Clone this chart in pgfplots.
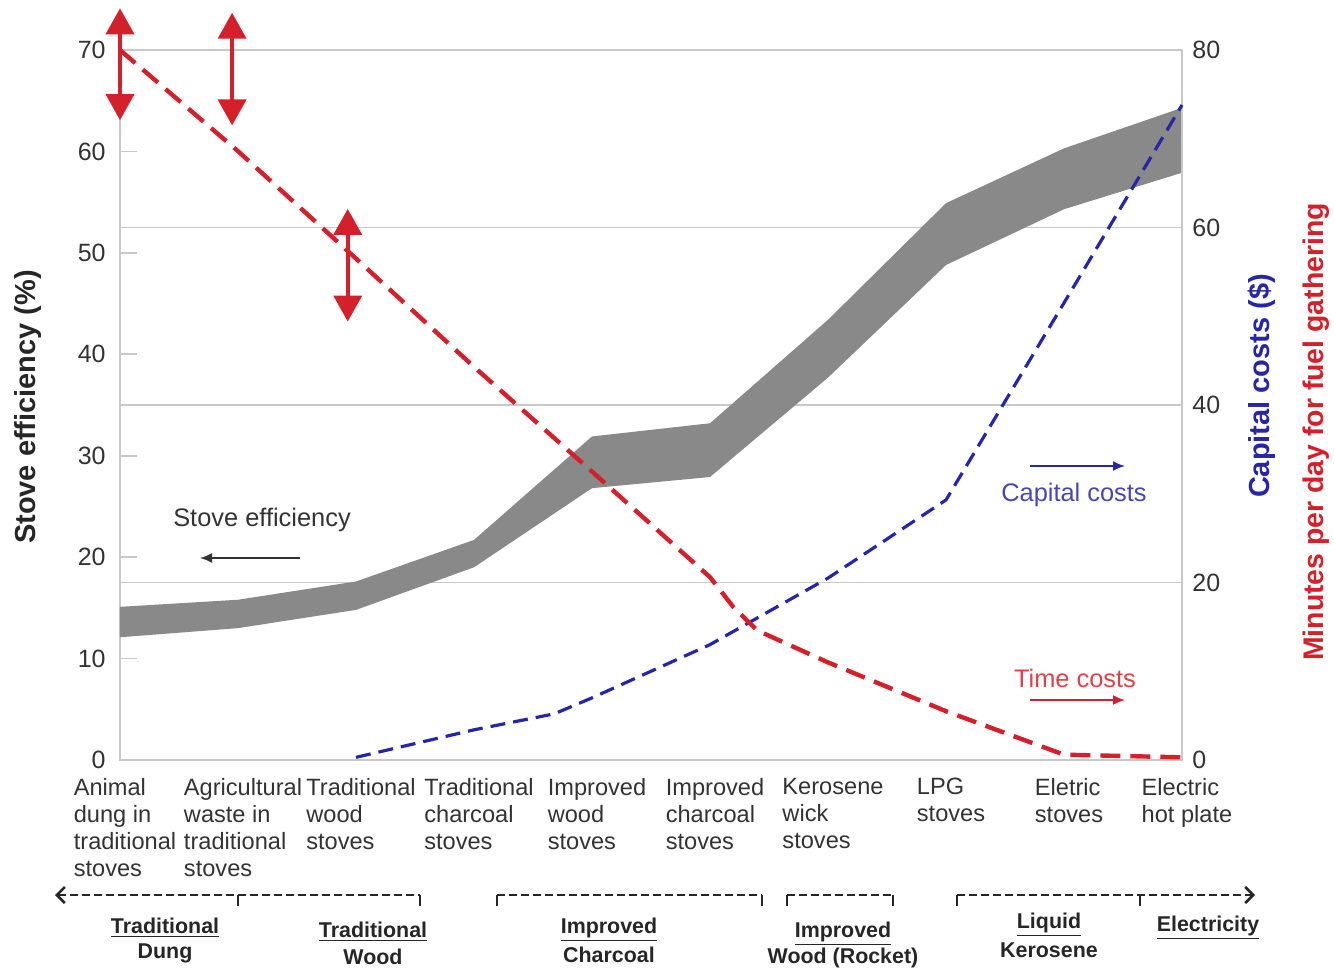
\documentclass[border=0pt]{standalone}
\usepackage{fontspec}
\setmainfont{Liberation Sans}
\usepackage{pgfplots}
\pgfplotsset{compat=1.18}
\usetikzlibrary{arrows.meta}
\definecolor{bandgray}{HTML}{898989}
\definecolor{redline}{HTML}{D4202A}
\definecolor{blueline}{HTML}{2626A6}
\definecolor{gridgray}{HTML}{C8C8C8}
\definecolor{ticktext}{HTML}{333333}
\begin{document}
\begin{tikzpicture}
\begin{axis}[
  at={(0,0)}, anchor=south west,
  scale only axis, width=531pt, height=355pt,
  xmin=0, xmax=9, ymin=0, ymax=70,
  xtick={0,...,9},
  xticklabels={{Animal\\dung in\\traditional\\stoves},{Agricultural\\waste in\\traditional\\stoves},{Traditional\\wood\\stoves},{Traditional\\charcoal\\stoves},{Improved\\wood\\stoves},{Improved\\charcoal\\stoves},{Kerosene\\wick\\stoves},{LPG\\stoves},{Eletric\\stoves},{Electric\\hot plate}},
  ytick={0,10,...,70},
  ytick pos=left, xtick pos=bottom,
  axis line style={gridgray, line width=0.8pt},
  major tick length=8.5pt,
  tick align=inside,
  ytick style={gridgray, line width=0.8pt},
  xtick style={draw=none},
  /pgf/number format/assume math mode=true,
  yticklabel style={font=\fontsize{12.5}{14}\selectfont, text=ticktext, inner sep=0pt, anchor=east, xshift=-7pt},
  xticklabel style={font=\fontsize{11.8}{13.5}\selectfont, text=ticktext, align=left, anchor=north, inner sep=0pt, yshift=-9pt, xshift=2.5pt},
]
\draw[gridgray, line width=0.8pt] (axis cs:0,17.5) -- (axis cs:9,17.5);
\draw[gridgray, line width=0.8pt] (axis cs:0,35) -- (axis cs:9,35);
\draw[gridgray, line width=0.8pt] (axis cs:0,52.5) -- (axis cs:9,52.5);
% efficiency band: upper edge left to right, then lower edge right to left
\addplot[fill=bandgray, draw=none] table {
x y
0 15.1
1 15.8
2 17.6
3 21.7
4 31.9
5 33.2
6 43.4
7 54.9
8 60.3
9 64.3
9 57.9
8 54.3
7 48.8
6 37.7
5 27.9
4 26.8
3 19.0
2 14.8
1 13.0
0 12.1
};
\end{axis}
\begin{axis}[
  at={(0,0)}, anchor=south west,
  scale only axis, width=531pt, height=355pt,
  xmin=0, xmax=9, ymin=0, ymax=80,
  axis y line*=right, axis x line=none,
  ytick={0,20,...,80},
  ytick style={draw=none},
  axis line style={gridgray, line width=0.8pt},
  /pgf/number format/assume math mode=true,
  yticklabel style={font=\fontsize{12.5}{14}\selectfont, text=ticktext, inner sep=0pt, anchor=west, xshift=5pt},
  clip=false,
]
% capital costs
\addplot[blueline, line width=1.6pt, dash pattern=on 7.5pt off 4pt] table {
x y
2 0.3
3 3.4
3.68 5.2
4 7.0
5 13.0
6 20.5
7 29.3
8 51.5
9 73.8
};
% time costs
\addplot[redline, line width=2.2pt, dash pattern=on 10pt off 5pt] table {
x y
0 80
1 68.6
2 56.5
3 44.3
4 32.5
5 20.6
5.2 17.2
5.4 14.6
6 11.0
7 5.5
8 0.6
9 0.3
};
\addplot[redline, line width=2pt, {Triangle[width=14pt,length=13pt]}-{Triangle[width=14pt,length=13pt]}] coordinates {(0,72.1) (0,84.7)};
\addplot[redline, line width=2pt, {Triangle[width=14pt,length=13pt]}-{Triangle[width=14pt,length=13pt]}] coordinates {(0.95,71.5) (0.95,84.2)};
\addplot[redline, line width=2pt, {Triangle[width=14pt,length=13pt]}-{Triangle[width=14pt,length=13pt]}] coordinates {(1.93,49.4) (1.93,62.1)};
\end{axis}
% annotations
\node[font=\fontsize{12.7}{14}\selectfont, text=black!80] at (71pt,120pt) {Stove efficiency};
\draw[-{Latex[length=6pt,width=5pt]}, black!80, line width=0.9pt] (90pt,101pt) -- (40pt,101pt);
\node[font=\fontsize{12.7}{14}\selectfont, text=blueline!85] at (477pt,132.5pt) {Capital costs};
\draw[-{Latex[length=6pt,width=5pt]}, blueline, line width=0.9pt] (455pt,147pt) -- (502.5pt,147pt);
\node[font=\fontsize{12.7}{14}\selectfont, text=redline!85] at (477.5pt,41pt) {Time costs};
\draw[-{Latex[length=6pt,width=5pt]}, redline, line width=0.9pt] (455pt,30pt) -- (502.5pt,30pt);
% axis titles
\node[rotate=90, font=\bfseries\fontsize{14.5}{16}\selectfont, text=black!85] at (-46pt,176.5pt) {Stove efficiency (\%)};
\node[rotate=90, font=\bfseries\fontsize{14.5}{16}\selectfont, text=blueline] at (571pt,187pt) {Capital costs (\$)};
\node[rotate=90, font=\bfseries\fontsize{14.2}{16}\selectfont, text=redline] at (598pt,164pt) {Minutes per day for fuel gathering};
% fuel groups below
\begin{scope}[line width=1.3pt, black!85]
\draw[dash pattern=on 4pt off 2pt, {Straight Barb[length=4pt,width=8pt]}-] (-32.5pt,-67.5pt) -- (150pt,-67.5pt);
\draw (59pt,-67.5pt) -- (59pt,-73pt);
\draw (150pt,-67.5pt) -- (150pt,-73pt);
\draw[dash pattern=on 4pt off 2pt] (188.5pt,-67.5pt) -- (321pt,-67.5pt);
\draw (188.5pt,-67.5pt) -- (188.5pt,-73pt);
\draw (321pt,-67.5pt) -- (321pt,-73pt);
\draw[dash pattern=on 4pt off 2pt] (333.5pt,-67.5pt) -- (386.5pt,-67.5pt);
\draw (333.5pt,-67.5pt) -- (333.5pt,-73pt);
\draw (386.5pt,-67.5pt) -- (386.5pt,-73pt);
\draw[dash pattern=on 4pt off 2pt, -{Straight Barb[length=4pt,width=8pt]}] (418.5pt,-67.5pt) -- (567.5pt,-67.5pt);
\draw (418.5pt,-67.5pt) -- (418.5pt,-73pt);
\draw (510pt,-67.5pt) -- (510pt,-73pt);
\end{scope}
\begin{scope}[font=\bfseries\fontsize{10.7}{12}\selectfont, text=black!85]
\node at (22.5pt,-84pt) {\underline{Traditional}};
\node at (22.5pt,-96.5pt) {Dung};
\node at (126.5pt,-86pt) {\underline{Traditional}};
\node at (126.5pt,-98.5pt) {Wood};
\node at (244.5pt,-85pt) {\underline{Improved}};
\node at (244.5pt,-97.5pt) {Charcoal};
\node at (361.5pt,-87pt) {\underline{Improved}};
\node at (361.5pt,-99pt) {Wood (Rocket)};
\node at (464.5pt,-82.5pt) {\underline{Liquid}};
\node at (464.5pt,-95pt) {Kerosene};
\node at (544pt,-84pt) {\underline{Electricity}};
\end{scope}
\pgfresetboundingbox
\path (-60pt,-105pt) rectangle (607pt,380pt);
\end{tikzpicture}
\end{document}
